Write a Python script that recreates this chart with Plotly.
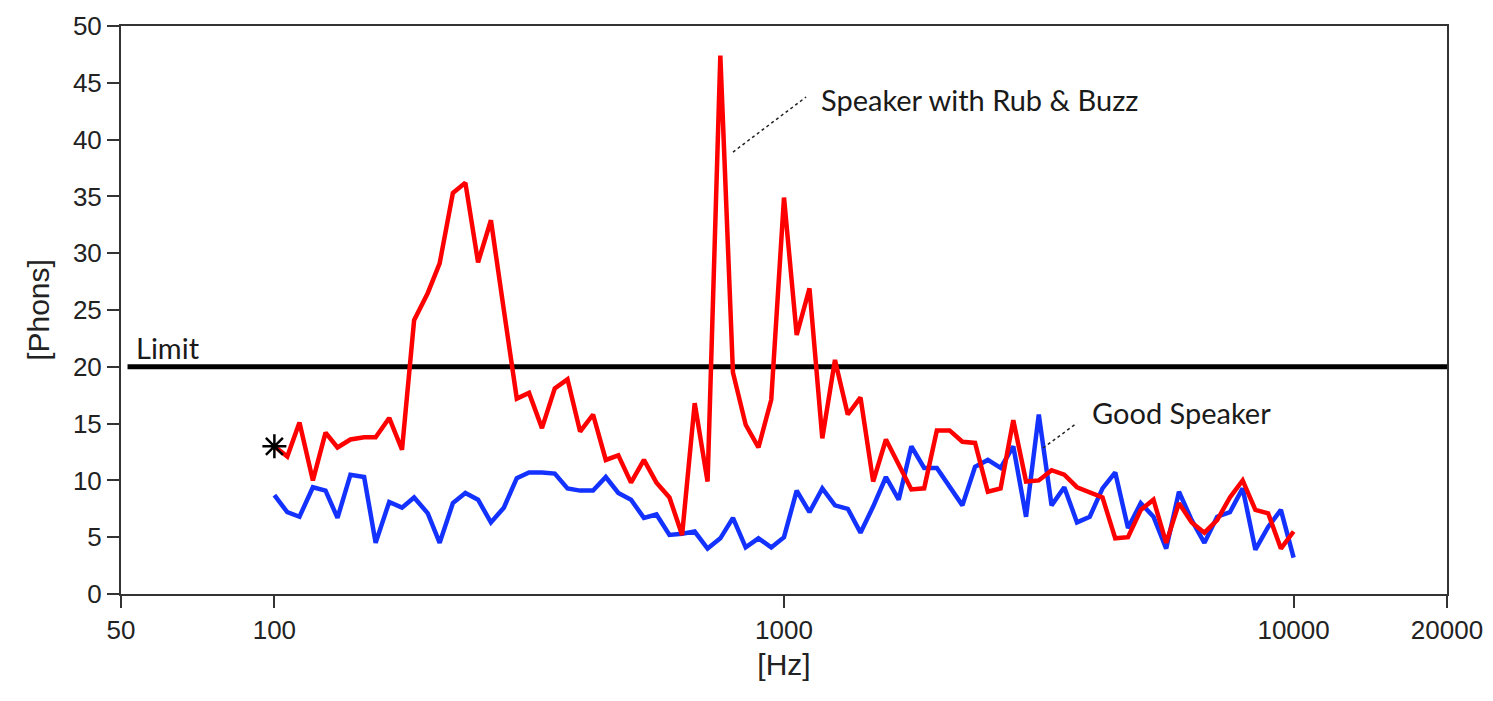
import math
import plotly.graph_objects as go

freq_hz = [100, 106, 112, 119, 126, 133, 141, 150, 158, 168,
           178, 188, 200, 211, 224, 237, 251, 266, 282, 299,
           316, 335, 355, 376, 398, 422, 447, 473, 501, 531,
           562, 596, 631, 668, 708, 750, 794, 841, 891, 944,
           1000, 1059, 1122, 1189, 1259, 1334, 1413, 1496, 1585, 1679,
           1778, 1884, 1995, 2113, 2239, 2371, 2512, 2661, 2818, 2985,
           3162, 3350, 3548, 3758, 3981, 4217, 4467, 4732, 5012, 5309,
           5623, 5957, 6310, 6683, 7079, 7499, 7943, 8414, 8913, 9441,
           10000]

rub_buzz_phons = [13.0, 12.1, 15.1, 10.0, 14.2, 12.9, 13.6, 13.8, 13.8, 15.5,
                  12.7, 24.1, 26.5, 29.1, 35.3, 36.2, 29.2, 32.9, 25.0, 17.2,
                  17.7, 14.6, 18.1, 18.9, 14.3, 15.8, 11.8, 12.2, 9.8, 11.8,
                  9.8, 8.5, 5.2, 16.8, 9.9, 47.4, 19.5, 14.9, 12.9, 17.1,
                  34.9, 22.8, 26.9, 13.7, 20.6, 15.8, 17.3, 9.9, 13.6, 11.4,
                  9.2, 9.3, 14.4, 14.4, 13.4, 13.3, 9.0, 9.3, 15.3, 9.9,
                  10.0, 10.9, 10.5, 9.4, 8.9, 8.5, 4.9, 5.0, 7.4, 8.3,
                  4.5, 8.0, 6.3, 5.4, 6.5, 8.5, 10.0, 7.4, 7.1, 4.0,
                  5.5]

good_phons = [8.7, 7.2, 6.8, 9.4, 9.1, 6.7, 10.5, 10.3, 4.5, 8.1,
              7.6, 8.5, 7.1, 4.5, 8.0, 8.9, 8.3, 6.3, 7.6, 10.2,
              10.7, 10.7, 10.6, 9.3, 9.1, 9.1, 10.3, 8.9, 8.3, 6.7,
              7.0, 5.2, 5.3, 5.5, 4.0, 4.9, 6.7, 4.1, 4.9, 4.1,
              5.0, 9.1, 7.2, 9.3, 7.8, 7.5, 5.4, 7.7, 10.3, 8.3,
              13.0, 11.1, 11.1, 9.5, 7.8, 11.2, 11.8, 11.1, 13.0, 6.8,
              15.8, 7.8, 9.4, 6.3, 6.8, 9.3, 10.7, 5.8, 8.0, 6.8,
              4.0, 9.0, 6.5, 4.5, 6.8, 7.2, 9.3, 3.9, 5.9, 7.4,
              3.2]

limit_phons = 20
limit_x = [51.5, 20300]
marker_x = [100]
marker_y = [13.0]

x_ticks = [50, 100, 1000, 10000, 20000]
x_tick_labels = ["50", "100", "1000", "10000", "20000"]
y_ticks = [0, 5, 10, 15, 20, 25, 30, 35, 40, 45, 50]

fig = go.Figure()

fig.add_trace(go.Scatter(x=limit_x, y=[limit_phons, limit_phons], mode="lines",
                         line=dict(color="black", width=5), cliponaxis=False,
                         hoverinfo="skip", showlegend=False))
fig.add_trace(go.Scatter(x=freq_hz, y=good_phons, mode="lines",
                         line=dict(color="#1432ff", width=4.5), name="Good Speaker",
                         showlegend=False))
fig.add_trace(go.Scatter(x=freq_hz, y=rub_buzz_phons, mode="lines",
                         line=dict(color="#ff0000", width=4.5), name="Speaker with Rub & Buzz",
                         showlegend=False))
fig.add_trace(go.Scatter(x=marker_x, y=marker_y, mode="markers",
                         marker=dict(symbol="asterisk-open", size=20, color="black",
                                     line=dict(color="black", width=2.5)),
                         showlegend=False))

ann_font = dict(family="Lato, Open Sans, sans-serif", size=29, color="#1a1a1a")

# Leader lines (shapes use data values on log axes)
fig.add_shape(type="line", xref="x", yref="y", x0=794, y0=38.9, x1=1105, y1=43.75,
              line=dict(color="#222", width=1.5, dash="dot"))
fig.add_shape(type="line", xref="x", yref="y", x0=3224, y0=12.85, x1=3758, y1=15.05,
              line=dict(color="#222", width=1.5, dash="dot"))

# Labels (annotations use log10 values on log axes)
fig.add_annotation(x=math.log10(1170), y=43.5, xref="x", yref="y",
                   text="Speaker with Rub & Buzz",
                   showarrow=False, xanchor="left", yanchor="middle", font=ann_font)
fig.add_annotation(x=math.log10(3990), y=16.0, xref="x", yref="y", text="Good Speaker",
                   showarrow=False, xanchor="left", yanchor="middle", font=ann_font)
fig.add_annotation(x=math.log10(53), y=21.7, xref="x", yref="y", text="Limit",
                   showarrow=False, xanchor="left", yanchor="middle", font=ann_font)

tick_font = dict(family="Liberation Sans, Arial, sans-serif", size=26, color="#222")
title_font = dict(family="Liberation Sans, Arial, sans-serif", size=30, color="#222")
fig.update_xaxes(type="log", range=[1.699, 4.301], tickvals=x_ticks, ticktext=x_tick_labels,
                 ticks="outside", ticklen=12, tickwidth=1.5, tickcolor="#333",
                 showline=True, linecolor="#333", linewidth=2, mirror=True,
                 showgrid=False, zeroline=False, tickfont=tick_font, automargin=False,
                 title=dict(text="[Hz]", font=title_font, standoff=10))
fig.update_yaxes(range=[0, 50], tickvals=y_ticks, ticks="outside", ticklen=12,
                 tickwidth=1.5, tickcolor="#333",
                 showline=True, linecolor="#333", linewidth=2, mirror=True,
                 showgrid=False, zeroline=False, tickfont=tick_font, automargin=False,
                 title=dict(text="[Phons]", font=title_font, standoff=14))
fig.update_layout(width=1493, height=701, paper_bgcolor="white", plot_bgcolor="white",
                  margin=dict(l=113, r=54, t=18, b=115), showlegend=False)

fig.write_html("out.html")
